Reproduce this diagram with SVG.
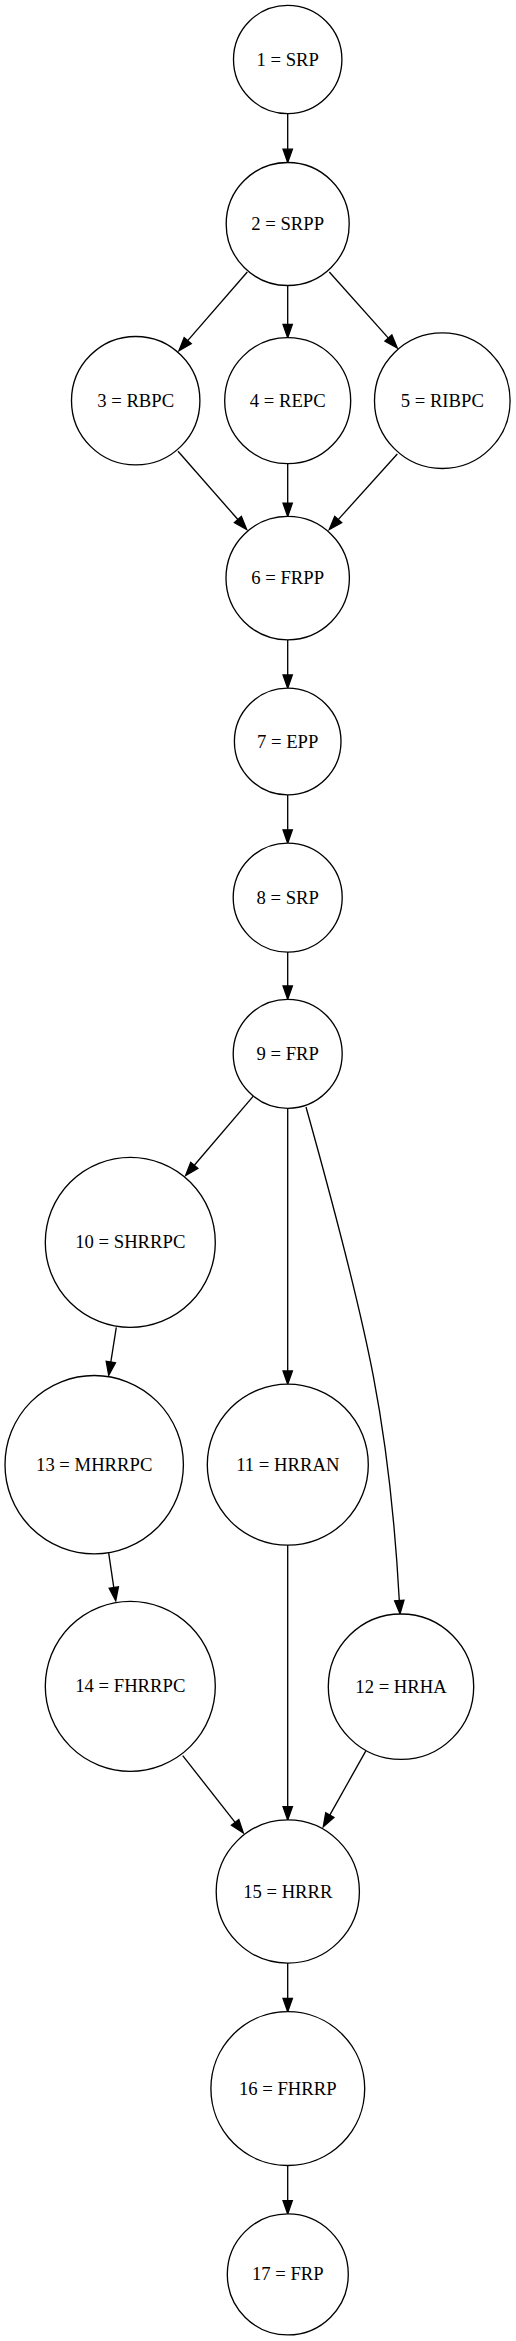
<svg xmlns="http://www.w3.org/2000/svg" width="516" height="2341" viewBox="0 0 516 2341">
<style>
.n circle{fill:#fff;stroke:#000;stroke-width:1.33}
.n text{font-family:"Liberation Serif","Times New Roman",serif;font-size:18.67px;text-anchor:middle;fill:#000}
.e path{fill:none;stroke:#000;stroke-width:1.33;marker-end:url(#ah)}
</style>
<defs>
<marker id="ah" markerUnits="userSpaceOnUse" markerWidth="14" markerHeight="10" viewBox="0 -5 14 10" refX="0" refY="0" orient="auto" overflow="visible">
<path d="M0,-4.67 L13.33,0 L0,4.67 Z" fill="#000" stroke="#000" stroke-width="1.33"/>
</marker>
</defs>
<rect width="516" height="2341" fill="#fff"/>
<g id="edges" class="e">
<path d="M287.7,113.7 L287.7,149.2"/>
<path d="M247.3,272 L187.7,340.6"/>
<path d="M287.7,285.5 L287.7,324.4"/>
<path d="M329.3,272 L388.4,338.1"/>
<path d="M178,451.3 L237.9,519.5"/>
<path d="M287.7,463.7 L287.7,503.1"/>
<path d="M397.3,454 L338.2,519.6"/>
<path d="M287.7,639.8 L287.7,674.9"/>
<path d="M287.7,794.8 L287.7,829.8"/>
<path d="M287.7,952.1 L287.7,986"/>
<path d="M253.3,1096.1 L194.3,1165.3"/>
<path d="M287.7,1108.3 L287.7,1371"/>
<path d="M306,1107 C370.4,1337 390,1430 399.3,1600.5"/>
<path d="M116.3,1327.3 L110.8,1362.1"/>
<path d="M108.7,1553.1 L113.8,1587.6"/>
<path d="M182.7,1755.6 L235.1,1822.4"/>
<path d="M287.7,1545.1 L287.7,1806.7"/>
<path d="M365.7,1751.1 L329.8,1815.1"/>
<path d="M287.7,1963 L287.7,1998.5"/>
<path d="M287.7,2165.4 L287.7,2200.6"/>
</g>
<g id="node1" class="n"><circle cx="287.7" cy="59.5" r="54.2"/><text x="287.7" y="65.5">1 = SRP</text></g>
<g id="node2" class="n"><circle cx="287.7" cy="224" r="61.5"/><text x="287.7" y="230">2 = SRPP</text></g>
<g id="node3" class="n"><circle cx="135.7" cy="400.7" r="64.2"/><text x="135.7" y="406.7">3 = RBPC</text></g>
<g id="node4" class="n"><circle cx="287.7" cy="400.7" r="63"/><text x="287.7" y="406.7">4 = REPC</text></g>
<g id="node5" class="n"><circle cx="442.3" cy="400.7" r="67.8"/><text x="442.3" y="406.7">5 = RIBPC</text></g>
<g id="node6" class="n"><circle cx="287.7" cy="578.1" r="61.7"/><text x="287.7" y="584.1">6 = FRPP</text></g>
<g id="node7" class="n"><circle cx="287.7" cy="741.5" r="53.3"/><text x="287.7" y="747.5">7 = EPP</text></g>
<g id="node8" class="n"><circle cx="287.7" cy="897.6" r="54.5"/><text x="287.7" y="903.6">8 = SRP</text></g>
<g id="node9" class="n"><circle cx="287.7" cy="1053.8" r="54.5"/><text x="287.7" y="1059.8">9 = FRP</text></g>
<g id="node10" class="n"><circle cx="130.3" cy="1242.4" r="85"/><text x="130.3" y="1248.4">10 = SHRRPC</text></g>
<g id="node11" class="n"><circle cx="287.8" cy="1464.7" r="80.5"/><text x="287.8" y="1470.7">11 = HRRAN</text></g>
<g id="node12" class="n"><circle cx="401" cy="1686.7" r="72.7"/><text x="401" y="1692.7">12 = HRHA</text></g>
<g id="node13" class="n"><circle cx="94.2" cy="1464.7" r="89.2"/><text x="94.2" y="1470.7">13 = MHRRPC</text></g>
<g id="node14" class="n"><circle cx="130.3" cy="1686.3" r="85"/><text x="130.3" y="1692.3">14 = FHRRPC</text></g>
<g id="node15" class="n"><circle cx="287.8" cy="1891.5" r="71.6"/><text x="287.8" y="1897.5">15 = HRRR</text></g>
<g id="node16" class="n"><circle cx="287.8" cy="2088.6" r="76.9"/><text x="287.8" y="2094.6">16 = FHRRP</text></g>
<g id="node17" class="n"><circle cx="287.8" cy="2274.4" r="60.5"/><text x="287.8" y="2280.4">17 = FRP</text></g>
</svg>
